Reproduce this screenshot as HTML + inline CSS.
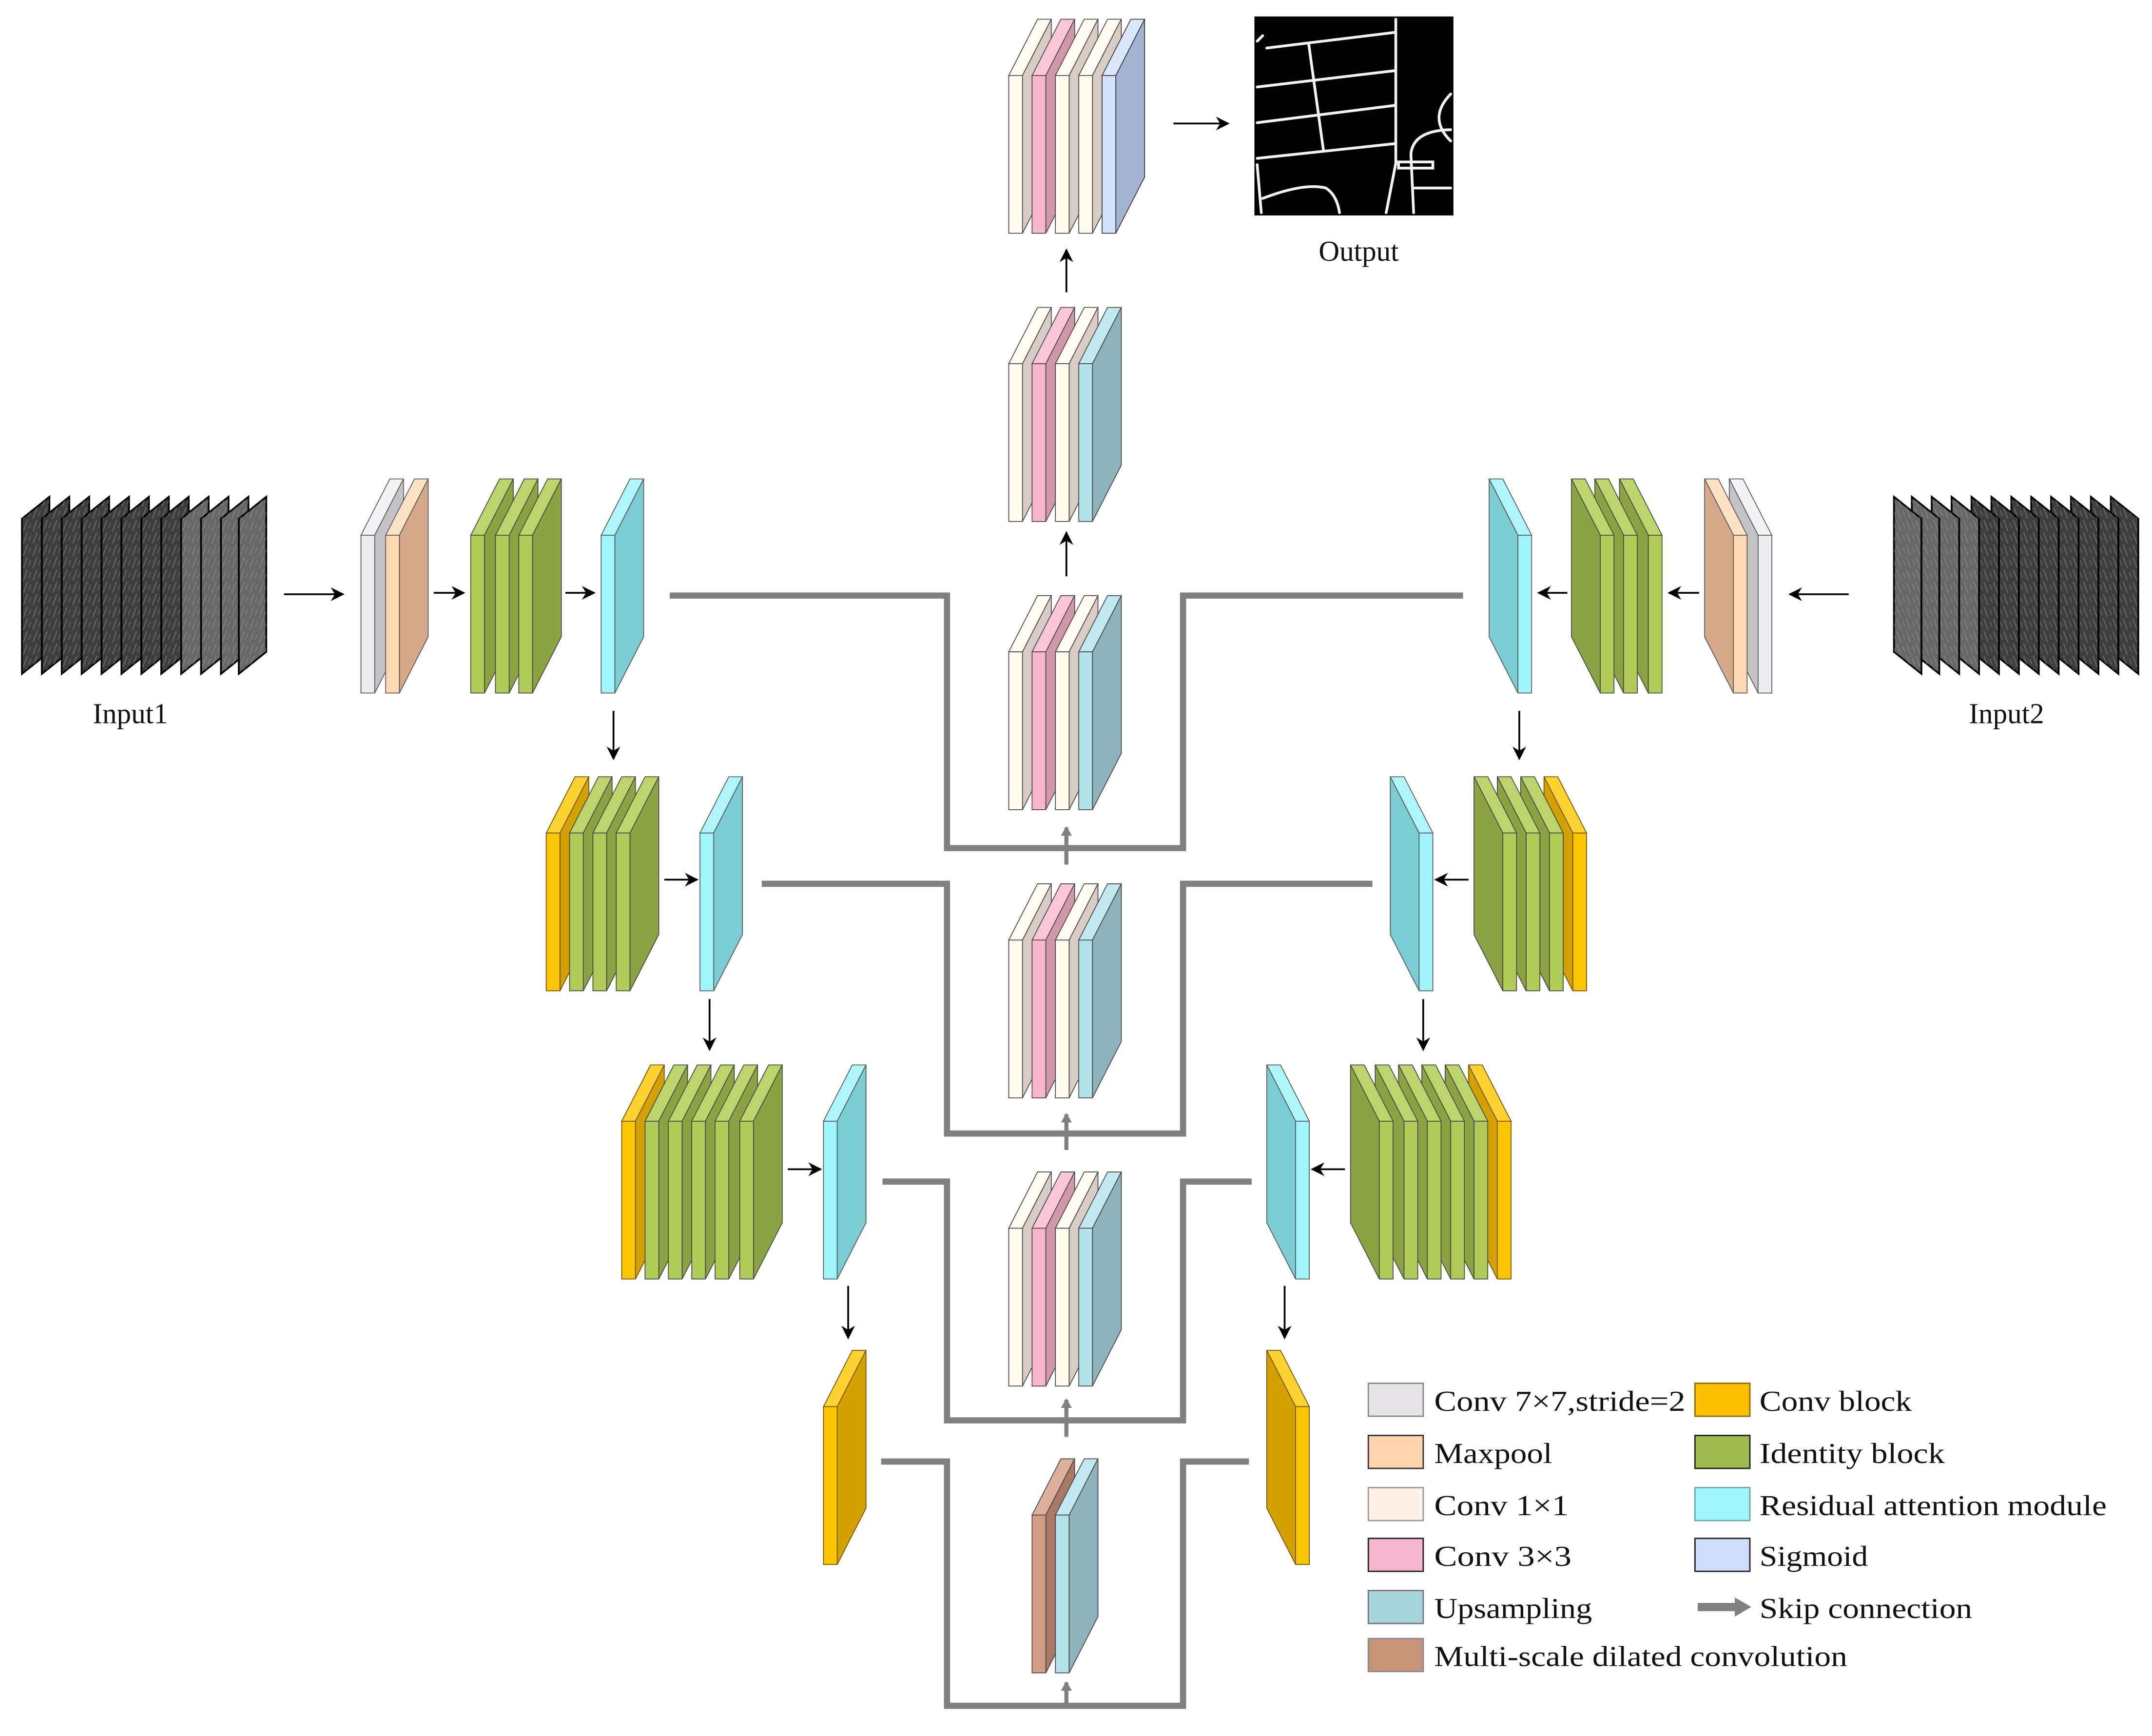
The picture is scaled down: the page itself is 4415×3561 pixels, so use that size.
<!DOCTYPE html>
<html><head><meta charset="utf-8">
<style>
html,body{margin:0;padding:0;background:#fff;}
svg{display:block;}
text{font-family:"Liberation Serif",serif;fill:#111;}
</style></head>
<body>
<svg width="4415" height="3561" viewBox="0 0 1568 1265" preserveAspectRatio="none" xmlns="http://www.w3.org/2000/svg">
<defs>
<marker id="ah" markerWidth="10" markerHeight="10" refX="9" refY="5" orient="auto" markerUnits="userSpaceOnUse">
<path d="M0,0 L10,5 L0,10 L3,5 z" fill="#000"/></marker>
<marker id="gh" markerWidth="8" markerHeight="8" refX="6" refY="4" orient="auto" markerUnits="userSpaceOnUse">
<path d="M0,0 L7,4 L0,8 z" fill="#808080"/></marker>
<pattern id="tex" width="7" height="9" patternUnits="userSpaceOnUse">
<path d="M1,9 L4,1" stroke="#9a9a9a" stroke-width="0.7" opacity="0.5"/>
<path d="M5,7 L6.5,3" stroke="#bbb" stroke-width="0.5" opacity="0.4"/></pattern>

<g id="c7"><polygon points="0,0 21,-41 31,-41 10,0" fill="#f3f2f5" stroke="#555" stroke-width=".6"/><polygon points="10,0 31,-41 31,74 10,115" fill="#c4c2c6" stroke="#555" stroke-width=".6"/><rect width="10" height="115" fill="#ecebee" stroke="#555" stroke-width=".6"/></g>
<g id="mp"><polygon points="0,0 21,-41 31,-41 10,0" fill="#fde2c6" stroke="#555" stroke-width=".6"/><polygon points="10,0 31,-41 31,74 10,115" fill="#d5aa8b" stroke="#555" stroke-width=".6"/><rect width="10" height="115" fill="#fdd8b3" stroke="#555" stroke-width=".6"/></g>
<g id="id"><polygon points="0,0 21,-41 31,-41 10,0" fill="#bcd46c" stroke="#444" stroke-width=".6"/><polygon points="10,0 31,-41 31,74 10,115" fill="#8aa443" stroke="#444" stroke-width=".6"/><rect width="10" height="115" fill="#afcb58" stroke="#444" stroke-width=".6"/></g>
<g id="ra"><polygon points="0,0 21,-41 31,-41 10,0" fill="#aef6fa" stroke="#555" stroke-width=".6"/><polygon points="10,0 31,-41 31,74 10,115" fill="#7ccdd3" stroke="#555" stroke-width=".6"/><rect width="10" height="115" fill="#9ff5fb" stroke="#555" stroke-width=".6"/></g>
<g id="cb"><polygon points="0,0 21,-41 31,-41 10,0" fill="#fdd231" stroke="#6a5000" stroke-width=".6"/><polygon points="10,0 31,-41 31,74 10,115" fill="#d4a200" stroke="#6a5000" stroke-width=".6"/><rect width="10" height="115" fill="#fdc400" stroke="#6a5000" stroke-width=".6"/></g>
<g id="c1"><polygon points="0,0 21,-41 31,-41 10,0" fill="#fffcf2" stroke="#444" stroke-width=".6"/><polygon points="10,0 31,-41 31,74 10,115" fill="#d8cdc2" stroke="#444" stroke-width=".6"/><rect width="10" height="115" fill="#fffbef" stroke="#444" stroke-width=".6"/></g>
<g id="c3"><polygon points="0,0 21,-41 31,-41 10,0" fill="#fbc6da" stroke="#444" stroke-width=".6"/><polygon points="10,0 31,-41 31,74 10,115" fill="#d197ad" stroke="#444" stroke-width=".6"/><rect width="10" height="115" fill="#f9b7cf" stroke="#444" stroke-width=".6"/></g>
<g id="up"><polygon points="0,0 21,-41 31,-41 10,0" fill="#c2e9ef" stroke="#444" stroke-width=".6"/><polygon points="10,0 31,-41 31,74 10,115" fill="#8db4bb" stroke="#444" stroke-width=".6"/><rect width="10" height="115" fill="#b3e2ea" stroke="#444" stroke-width=".6"/></g>
<g id="sg"><polygon points="0,0 21,-41 31,-41 10,0" fill="#dbe7fb" stroke="#333" stroke-width=".6"/><polygon points="10,0 31,-41 31,74 10,115" fill="#a5b3d2" stroke="#333" stroke-width=".6"/><rect width="10" height="115" fill="#d2e2fa" stroke="#333" stroke-width=".6"/></g>
<g id="ms"><polygon points="0,0 21,-41 31,-41 10,0" fill="#ddb09c" stroke="#444" stroke-width=".6"/><polygon points="10,0 31,-41 31,74 10,115" fill="#a87a66" stroke="#444" stroke-width=".6"/><rect width="10" height="115" fill="#d59f86" stroke="#444" stroke-width=".6"/></g>

<g id="sheetD"><polygon points="0,378 20,362 20,475 0,491" fill="#3e3e3e" stroke="#000" stroke-width="1.3"/><polygon points="0,378 20,362 20,475 0,491" fill="url(#tex)"/></g>
<g id="sheetL"><polygon points="0,378 20,362 20,475 0,491" fill="#686868" stroke="#000" stroke-width="1.3"/><polygon points="0,378 20,362 20,475 0,491" fill="url(#tex)"/></g>

<g id="inputs">
<use href="#sheetD" x="16"/><use href="#sheetD" x="30.5"/><use href="#sheetD" x="45"/><use href="#sheetD" x="59.5"/>
<use href="#sheetD" x="74"/><use href="#sheetD" x="88.5"/><use href="#sheetD" x="103"/><use href="#sheetD" x="117.5"/>
<use href="#sheetL" x="132"/><use href="#sheetL" x="146.5"/><use href="#sheetL" x="161"/><use href="#sheetL" x="174"/>
</g>

<g id="half">
<use href="#c7" x="263" y="390"/><use href="#mp" x="281" y="390"/>
<use href="#id" x="343" y="390"/><use href="#id" x="361" y="390"/><use href="#id" x="378" y="390"/>
<use href="#ra" x="438" y="390"/>
<use href="#cb" x="398" y="607"/><use href="#id" x="415" y="607"/><use href="#id" x="432" y="607"/><use href="#id" x="449" y="607"/>
<use href="#ra" x="510" y="607"/>
<use href="#cb" x="453" y="817"/><use href="#id" x="470" y="817"/><use href="#id" x="487" y="817"/><use href="#id" x="504" y="817"/><use href="#id" x="521" y="817"/><use href="#id" x="539" y="817"/>
<use href="#ra" x="600" y="817"/>
<use href="#cb" x="600" y="1025"/>
<g stroke="#000" stroke-width="1.3" fill="none" marker-end="url(#ah)">
<line x1="207" y1="433" x2="250" y2="433"/>
<line x1="316" y1="432" x2="338" y2="432"/>
<line x1="412" y1="432" x2="433" y2="432"/>
<line x1="484" y1="641" x2="508" y2="641"/>
<line x1="574" y1="852" x2="598" y2="852"/>
<line x1="447" y1="518" x2="447" y2="553"/>
<line x1="517" y1="728" x2="517" y2="765"/>
<line x1="618" y1="937" x2="618" y2="975"/>
</g>
</g>
</defs>

<g stroke="#808080" stroke-width="4.5" fill="none" stroke-linejoin="miter">
<polyline points="488,434 690,434 690,618 862,618 862,434 1066,434"/>
<polyline points="555,644 690,644 690,826 862,826 862,644 1000,644"/>
<polyline points="643,861 690,861 690,1035 862,1035 862,861 912,861"/>
<polyline points="642,1065 690,1065 690,1243 862,1243 862,1065 910,1065"/>
</g>
<g stroke="#808080" stroke-width="3" marker-end="url(#gh)">
<line x1="777" y1="630" x2="777" y2="603"/>
<line x1="777" y1="838" x2="777" y2="812"/>
<line x1="777" y1="1047" x2="777" y2="1020"/>
<line x1="777" y1="1241" x2="777" y2="1226"/>
</g>

<use href="#inputs"/>
<g transform="translate(1574,0) scale(-1,1)"><use href="#inputs"/></g>
<use href="#half"/>
<g transform="translate(1554,0) scale(-1,1)"><use href="#half"/></g>

<use href="#c1" x="735" y="55"/><use href="#c3" x="752" y="55"/><use href="#c1" x="769" y="55"/><use href="#c1" x="786" y="55"/><use href="#sg" x="803" y="55"/>
<use href="#c1" x="735" y="265"/><use href="#c3" x="752" y="265"/><use href="#c1" x="769" y="265"/><use href="#up" x="786" y="265"/>
<use href="#c1" x="735" y="475"/><use href="#c3" x="752" y="475"/><use href="#c1" x="769" y="475"/><use href="#up" x="786" y="475"/>
<use href="#c1" x="735" y="685"/><use href="#c3" x="752" y="685"/><use href="#c1" x="769" y="685"/><use href="#up" x="786" y="685"/>
<use href="#c1" x="735" y="895"/><use href="#c3" x="752" y="895"/><use href="#c1" x="769" y="895"/><use href="#up" x="786" y="895"/>
<use href="#ms" x="752" y="1104"/><use href="#up" x="769" y="1104"/>

<g stroke="#000" stroke-width="1.3" fill="none" marker-end="url(#ah)">
<line x1="777" y1="420" x2="777" y2="388"/>
<line x1="777" y1="213" x2="777" y2="182"/>
<line x1="855" y1="90" x2="895" y2="90"/>
</g>

<rect x="914" y="12" width="145" height="145" fill="#000"/>
<g stroke="#f2f2f2" stroke-width="2" fill="none" stroke-linecap="round">
<polyline points="1017,14 1017,119 1010,155"/>
<line x1="923" y1="35" x2="1017" y2="23.5"/>
<line x1="916" y1="63.4" x2="1017" y2="51.4"/>
<line x1="916" y1="89.4" x2="1017" y2="76.7"/>
<line x1="916" y1="115.4" x2="1017" y2="104.6"/>
<line x1="953.6" y1="32.3" x2="964.4" y2="110.3"/>
<line x1="916" y1="120" x2="919" y2="155"/>
<path d="M920,144.6 Q950,133 966,137 Q974,142 976,155"/>
<path d="M1030,155 L1028,112 Q1030,95 1057,94.5"/>
<rect x="1019" y="118" width="25" height="4.5"/>
<line x1="1030" y1="137" x2="1057" y2="137"/>
<path d="M1057,68.5 Q1040,86 1057,102.7"/>
<line x1="916" y1="30" x2="920" y2="26"/>
</g>

<text x="95" y="527" font-size="21" text-anchor="middle">Input1</text>
<text x="1462" y="527" font-size="21" text-anchor="middle">Input2</text>
<text x="990" y="190" font-size="21" text-anchor="middle">Output</text>

<g stroke-width="1">
<rect x="997" y="1008" width="40" height="24" fill="#e6e4e8" stroke="#888"/>
<rect x="997" y="1046" width="40" height="24" fill="#fdd4ae" stroke="#333"/>
<rect x="997" y="1084" width="40" height="24" fill="#fff2e8" stroke="#999"/>
<rect x="997" y="1121" width="40" height="24" fill="#f5b6cf" stroke="#222"/>
<rect x="997" y="1159" width="40" height="24" fill="#a6d6dc" stroke="#777"/>
<rect x="997" y="1194" width="40" height="24" fill="#c79479" stroke="#888"/>
<rect x="1235" y="1008" width="40" height="24" fill="#fdc000" stroke="#8a7000"/>
<rect x="1235" y="1046" width="40" height="24" fill="#9ebb4e" stroke="#222"/>
<rect x="1235" y="1084" width="40" height="24" fill="#9ff5fb" stroke="#6aa"/>
<rect x="1235" y="1121" width="40" height="24" fill="#cfdcfa" stroke="#222"/>
</g>
<line x1="1237" y1="1171" x2="1266" y2="1171" stroke="#808080" stroke-width="6"/>
<polygon points="1264,1164 1276,1171 1264,1178" fill="#808080"/>
<g font-size="21">
<text x="1045" y="1028" textLength="183" lengthAdjust="spacingAndGlyphs">Conv 7×7,stride=2</text>
<text x="1045" y="1066" textLength="86" lengthAdjust="spacingAndGlyphs">Maxpool</text>
<text x="1045" y="1104" textLength="98" lengthAdjust="spacingAndGlyphs">Conv 1×1</text>
<text x="1045" y="1141" textLength="100" lengthAdjust="spacingAndGlyphs">Conv 3×3</text>
<text x="1045" y="1179" textLength="115" lengthAdjust="spacingAndGlyphs">Upsampling</text>
<text x="1045" y="1214" textLength="301" lengthAdjust="spacingAndGlyphs">Multi-scale dilated convolution</text>
<text x="1282" y="1028" textLength="111" lengthAdjust="spacingAndGlyphs">Conv block</text>
<text x="1282" y="1066" textLength="135" lengthAdjust="spacingAndGlyphs">Identity block</text>
<text x="1282" y="1104" textLength="253" lengthAdjust="spacingAndGlyphs">Residual attention module</text>
<text x="1282" y="1141" textLength="79" lengthAdjust="spacingAndGlyphs">Sigmoid</text>
<text x="1282" y="1179" textLength="155" lengthAdjust="spacingAndGlyphs">Skip connection</text>
</g>
</svg>
</body></html>
